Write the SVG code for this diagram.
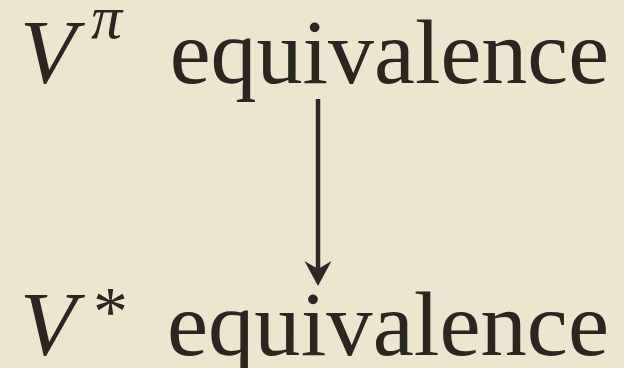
<svg xmlns="http://www.w3.org/2000/svg" width="624" height="368" viewBox="0 0 624 368">
<style>
.t{font-family:"Liberation Serif","Times New Roman",serif;fill:#2a2620;}
.i{font-style:italic;}
.c{stroke:#2d2924;stroke-width:4.5;fill:none;}
.ah{fill:#2d2924;}
</style>
<rect x="0" y="0" width="624" height="368" fill="#ECE6CE"/>
<g id="vpi">
<text class="t i" x="20" y="83" font-size="92">V</text>
<text class="t i" x="91" y="38" font-size="62">π</text>
<text class="t" x="609" y="83" font-size="92" text-anchor="end">equivalence</text>
</g>
<g id="vstar">
<text class="t i" x="20" y="355" font-size="92">V</text>
<text class="t" x="93" y="335" font-size="70">*</text>
<text class="t" x="609" y="355" font-size="92" text-anchor="end" textLength="442" lengthAdjust="spacingAndGlyphs">equivalence</text>
</g>
<g id="connectors">
<line class="c" x1="318" y1="99" x2="318" y2="270"/>
<path class="ah" d="M318,286 L304.5,261 L318,269 L331.5,261 Z"/>
</g>
</svg>
